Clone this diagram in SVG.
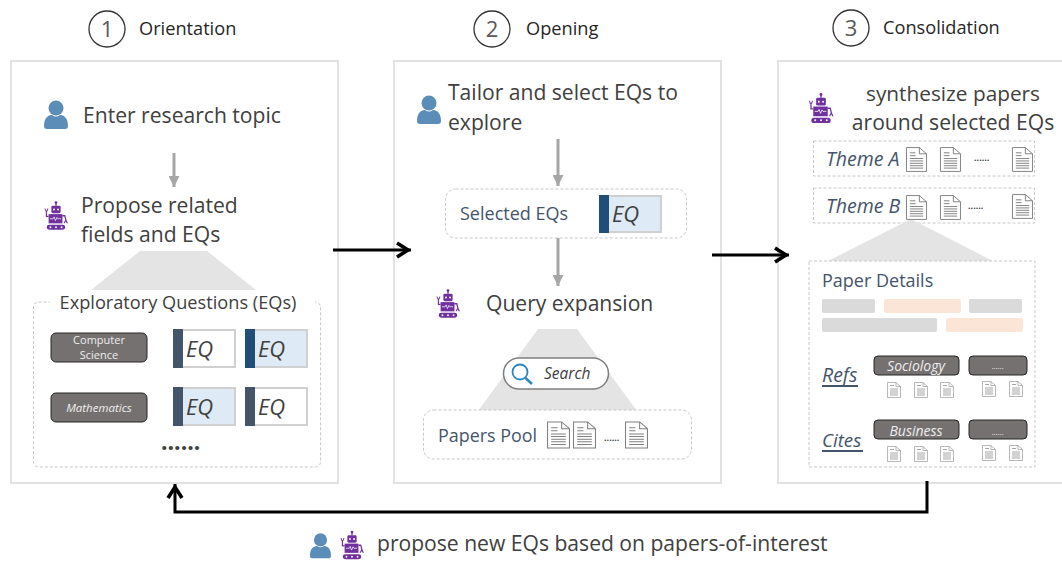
<svg xmlns="http://www.w3.org/2000/svg" width="1062" height="563" viewBox="0 0 1062 563">
<style>
text{font-family:"Open Sans","Noto Sans","Liberation Sans",sans-serif;fill:#404040}
.panel{fill:#fff;stroke:#e2e2e2;stroke-width:2}
.dash{fill:#fff;stroke:#c8c8c8;stroke-width:1;stroke-dasharray:3 2}
.t22{font-size:21.1px}
.blue{fill:#44546a}
.trap{fill:#e4e4e4}
.flow{fill:none;stroke:#000;stroke-width:3}
.gl{fill:none;stroke:#a6a6a6;stroke-width:3}
.eq{stroke:#d0d0d0;stroke-width:2}
.bar{fill:#44546a}
.eqt{font-size:22px;font-style:italic}
.tag{fill:#767171;stroke:#262626;stroke-width:1}
.tagt{fill:#eee;font-style:italic;text-anchor:middle}
.ghost{fill:#dadada}.peach{fill:#fbe5d6}
.num{font-size:22px;text-anchor:middle;fill:#595959}
.head{font-size:18.200px;fill:#262626}
</style>
<defs>
<symbol id="user" viewBox="0 0 24 30" overflow="visible">
<circle cx="12" cy="8" r="7.500" fill="#5b8db8"/>
<path d="M0 26 C0 17 5 15 8 15 Q12 18 16 15 C19 15 24 17 24 26 Q24 29 21 29 H3 Q0 29 0 26Z" fill="#5b8db8"/>
</symbol>
<symbol id="robot" viewBox="0 0 26 31" overflow="visible">
<g fill="#7030a0">
<circle cx="13" cy="1.500" r="1.500"/><rect x="12.300" y="2" width="1.400" height="3"/>
<rect x="8" y="5" width="10" height="8" rx="1.500"/>
<rect x="5" y="14" width="15" height="10"/>
<rect x="3" y="25.500" width="20" height="5.500" rx="2.700"/>
<path d="M5 17 H2 V11 H3.300 V15.700 H5Z M0.500 8 L1.500 11 H3.800 L4.800 8 L3.800 8 L3 10 H2.300 L1.500 8Z"/>
<path d="M20 15 H23 L24.500 21 L26 24 H24.600 L23.500 22 L22.500 24 H21.200 L23 20.500 L22 16.500 H20Z"/>
</g>
<g fill="#fff"><circle cx="10.800" cy="9" r="1"/><circle cx="15.200" cy="9" r="1"/><circle cx="7" cy="28.200" r="1"/><circle cx="13" cy="28.200" r="1"/><circle cx="19" cy="28.200" r="1"/></g>
<path d="M6.500 19 H10 L11 17 L12.500 21 L14 17.500 L15 19 H18.500" fill="none" stroke="#fff" stroke-width=".8"/>
</symbol>
<symbol id="doc" viewBox="0 0 22 26" overflow="visible">
<path d="M.5 .5 H14 L21.500 7 V25.500 H.5Z M14 .5 V7 H21.500" fill="#fff" stroke="#7f7f7f" stroke-width="1"/>
<path d="M4 6 H10 M4 9 H10 M4 12 H18 M4 14.500 H18 M4 17 H18 M4 19.500 H18 M4 22 H18" stroke="#7f7f7f" stroke-width="1"/>
</symbol>
<symbol id="sdoc" viewBox="0 0 14 16" overflow="visible">
<path d="M.5 .5 H9 L13.500 4.500 V15.500 H.5Z M9 .5 V4.500 H13.500" fill="#fff" stroke="#a6a6a6" stroke-width=".8"/>
<path d="M3 3.500 H7 M3 7 H11 M3 9 H11 M3 11 H11 M3 13 H11" stroke="#a6a6a6" stroke-width="1"/>
</symbol>
<marker id="ah" viewBox="0 0 20 20" refX="17" refY="10" markerWidth="20" markerHeight="20" markerUnits="userSpaceOnUse" orient="auto"><path d="M3 3 L14 10 L3 17" fill="none" stroke="#000" stroke-width="3.600"/></marker>
<marker id="gh" viewBox="0 0 12 11" refX="11" refY="5.500" markerWidth="12" markerHeight="11" markerUnits="userSpaceOnUse" orient="auto"><path d="M0 0 L11 5.500 L0 11Z" fill="#a6a6a6"/></marker>
</defs>

<g id="step-1-header"><circle cx="107" cy="29" r="18" fill="#fff" stroke="#333" stroke-width="1.300"/><text class="num" x="107" y="37">1</text><text class="head" x="139" y="35">Orientation</text></g>
<g id="step-2-header"><circle cx="492" cy="29" r="18" fill="#fff" stroke="#333" stroke-width="1.300"/><text class="num" x="492" y="37">2</text><text class="head" x="526" y="35">Opening</text></g>
<g id="step-3-header"><circle cx="851" cy="28" r="18" fill="#fff" stroke="#333" stroke-width="1.300"/><text class="num" x="851" y="36">3</text><text class="head" x="883" y="34">Consolidation</text></g>

<g id="panel-orientation">
<rect class="panel" x="11" y="61" width="327" height="422"/>
<use href="#user" x="44" y="100" width="24" height="30"/>
<text class="t22" x="83" y="123">Enter research topic</text>
<use href="#robot" x="44" y="200" width="24" height="31"/>
<text class="t22" x="81" y="213">Propose related</text>
<text class="t22" x="81" y="242">fields and EQs</text>
<path class="trap" d="M140 251 H207 L256 290 H91Z"/>
<rect class="dash" x="33.500" y="302" width="287" height="165" rx="5"/>
<rect x="50" y="292" width="265" height="20" fill="#fff"/>
<text x="178" y="309" font-size="18.200" text-anchor="middle">Exploratory Questions (EQs)</text>
<rect class="tag" x="51" y="333" width="96" height="29" rx="5"/>
<text class="tagt" x="99" y="344" font-size="11" style="font-style:normal">Computer</text><text class="tagt" x="99" y="359" font-size="11" style="font-style:normal">Science</text>
<rect class="tag" x="51" y="393" width="96" height="29" rx="5"/>
<text class="tagt" x="99" y="412" font-size="11.500">Mathematics</text>
<rect class="eq" x="174" y="330" width="61" height="37" fill="#fff"/><rect class="bar" x="173" y="329" width="10" height="39"/><text class="eqt" x="186" y="357">EQ</text>
<rect class="eq" x="246" y="330" width="61" height="37" fill="#deeaf6"/><rect x="245" y="329" width="10" height="39" fill="#1f4e79"/><text class="eqt" x="258" y="357">EQ</text>
<rect class="eq" x="174" y="388" width="61" height="37" fill="#deeaf6"/><rect class="bar" x="173" y="387" width="10" height="39"/><text class="eqt" x="186" y="415">EQ</text>
<rect class="eq" x="246" y="388" width="61" height="37" fill="#fff"/><rect class="bar" x="245" y="387" width="10" height="39"/><text class="eqt" x="258" y="415">EQ</text>
<text x="161" y="450" font-size="23" font-weight="700" fill="#262626">......</text>
</g>

<g id="panel-opening">
<rect class="panel" x="394" y="61" width="327" height="422"/>
<use href="#user" x="417" y="95" width="24" height="30"/>
<text class="t22" x="448" y="100">Tailor and select EQs to</text>
<text class="t22" x="448" y="130">explore</text>
<path class="trap" d="M538 329 H577 L637 411 H478Z"/>
<rect class="dash" x="445.500" y="189" width="241" height="49" rx="10"/>
<text style="fill:#44546a" x="460" y="220" font-size="18">Selected EQs</text>
<rect class="eq" x="600" y="196" width="61" height="36" fill="#deeaf6"/><rect x="599" y="195" width="10" height="38" fill="#1f4e79"/><text class="eqt" x="612" y="222">EQ</text>
<use href="#robot" x="436" y="288" width="24" height="31"/>
<text class="t22" x="486" y="311">Query expansion</text>
<rect x="503.500" y="358" width="105" height="31" rx="15.500" fill="#fff" stroke="#7f7f7f" stroke-width="1.500"/>
<circle cx="520" cy="372" r="7.500" fill="none" stroke="#2e86c1" stroke-width="1.800"/><path d="M525.500 378 L532 384" stroke="#2e86c1" stroke-width="2.500"/>
<text x="544" y="379" font-size="15.500" font-style="italic">Search</text>
<rect class="dash" x="423.500" y="410" width="268" height="49" rx="10"/>
<text x="438" y="442" font-size="17.900" style="fill:#44546a">Papers Pool</text>
<use href="#doc" x="547" y="420" width="23" height="30"/><use href="#doc" x="573" y="420" width="23" height="30"/><use href="#doc" x="625" y="420" width="23" height="30"/>
<text x="604" y="441" font-size="9" font-weight="700" fill="#262626">......</text>
</g>

<g id="panel-consolidation">
<rect class="panel" x="778" y="61" width="290" height="422"/>
<use href="#robot" x="808" y="93" width="26" height="30"/>
<text x="953" y="101" font-size="20.800" text-anchor="middle">synthesize papers</text>
<text class="t22" x="953" y="130" text-anchor="middle">around selected EQs</text>
<rect class="dash" x="813.500" y="141" width="221" height="35"/>
<text x="826" y="166" font-size="19.500" font-style="italic" style="fill:#44546a">Theme A</text>
<use href="#doc" x="906" y="147" width="21" height="25"/><use href="#doc" x="940" y="147" width="21" height="25"/><use href="#doc" x="1012" y="147" width="21" height="25"/>
<text x="974" y="161" font-size="9" font-weight="700">......</text>
<rect class="dash" x="813.500" y="188" width="221" height="35"/>
<text x="826" y="213" font-size="19.500" font-style="italic" style="fill:#44546a">Theme B</text>
<path class="trap" d="M911 219 L993 261 H828Z"/>
<use href="#doc" x="906" y="195" width="21" height="25"/><use href="#doc" x="940" y="195" width="21" height="25"/><use href="#doc" x="1012" y="194" width="21" height="25"/>
<text x="968" y="209" font-size="9" font-weight="700">......</text>
<rect class="dash" x="809" y="261" width="226" height="206"/>
<text x="822" y="287" font-size="18" style="fill:#44546a">Paper Details</text>
<rect class="ghost" x="822" y="299" width="53" height="14" rx="2"/><rect class="peach" x="884" y="299" width="77" height="14" rx="2"/><rect class="ghost" x="969" y="299" width="53" height="14" rx="2"/>
<rect class="ghost" x="822" y="318" width="115" height="14" rx="2"/><rect class="peach" x="946" y="318" width="77" height="14" rx="2"/>
<text x="822" y="382" font-size="19.500" font-style="italic" style="fill:#44546a">Refs</text><rect x="822" y="385" width="36" height="2" fill="#44546a"/>
<text x="822" y="447" font-size="18.700" font-style="italic" style="fill:#44546a">Cites</text><rect x="822" y="450" width="41" height="2" fill="#44546a"/>
<rect class="tag" x="874" y="356" width="85" height="19" rx="4"/><text class="tagt" x="916" y="371" font-size="14">Sociology</text>
<rect class="tag" x="969" y="356" width="58" height="19" rx="4"/><text class="tagt" x="998" y="369" font-size="8">......</text>
<rect class="tag" x="874" y="420" width="85" height="19" rx="4"/><text class="tagt" x="916" y="436" font-size="14">Business</text>
<rect class="tag" x="969" y="420" width="58" height="19" rx="4"/><text class="tagt" x="998" y="435" font-size="8">......</text>
<use href="#sdoc" x="887" y="382" width="14" height="16"/><use href="#sdoc" x="914" y="382" width="14" height="16"/><use href="#sdoc" x="940" y="382" width="14" height="16"/><use href="#sdoc" x="982" y="381" width="14" height="16"/><use href="#sdoc" x="1009" y="381" width="14" height="16"/>
<use href="#sdoc" x="887" y="446" width="14" height="16"/><use href="#sdoc" x="914" y="446" width="14" height="16"/><use href="#sdoc" x="940" y="446" width="14" height="16"/><use href="#sdoc" x="982" y="445" width="14" height="16"/><use href="#sdoc" x="1009" y="445" width="14" height="16"/>
</g>

<g id="connectors">
<path class="gl" d="M174 153 V187" marker-end="url(#gh)"/>
<path class="gl" d="M558 139 V186" marker-end="url(#gh)"/>
<path class="gl" d="M558 238 V286" marker-end="url(#gh)"/>
<path class="flow" d="M333 250 H411" marker-end="url(#ah)"/>
<path class="flow" d="M712 255 H789" marker-end="url(#ah)"/>
<path class="flow" d="M927 481 V512 H175 V484" marker-end="url(#ah)"/>
</g>

<g id="footer">
<use href="#user" x="310" y="532" width="21" height="28"/>
<use href="#robot" x="340" y="530" width="24" height="30"/>
<text x="377" y="551" font-size="21.100">propose new EQs based on papers-of-interest</text>
</g>
</svg>
